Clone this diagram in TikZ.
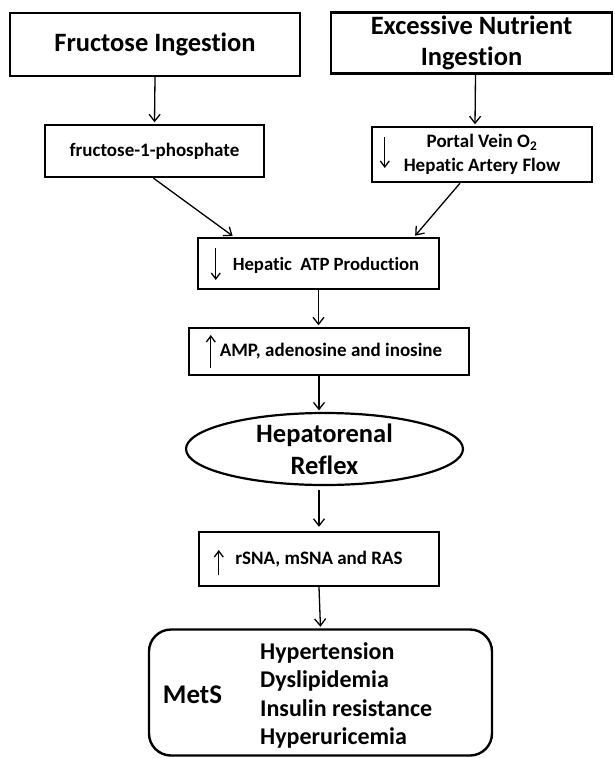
\documentclass[tikz,border=0pt]{standalone}
\usepackage{fontspec}
\setmainfont{Carlito}[Ligatures=NoCommon]
\usetikzlibrary{arrows.meta,shapes.geometric,calc}
\begin{document}
\begin{tikzpicture}[x=1pt,y=-1pt,
  box/.style={draw,line width=2.4pt,inner sep=0pt,align=center},
  arr/.style={line width=1.3pt,-{Straight Barb[length=7pt,width=11pt,line width=1.3pt]},shorten >=1.5pt},
  inarr/.style={line width=1.3pt,-{Straight Barb[length=6pt,width=9pt,line width=1.3pt]}},
  lbl/.style={inner sep=0pt,align=center}]
\useasboundingbox[fill=white] (0,0) rectangle (614,758);
% top boxes
\node[box,minimum width=290pt,minimum height=63pt,font=\bfseries\fontsize{26.5}{31}\selectfont] (fi) at (155,44.5) {Fructose Ingestion};
\node[box,minimum width=281pt,minimum height=61pt,font=\bfseries\fontsize{26.5}{31}\selectfont] (ex) at (471.5,43) {Excessive Nutrient\\Ingestion};
% second row
\node[box,minimum width=219pt,minimum height=52pt,font=\bfseries\fontsize{19}{24}\selectfont] (f1p) at (154.5,151) {fructose-1-phosphate};
\node[box,minimum width=220pt,minimum height=55pt,font=\bfseries\fontsize{19}{24}\selectfont] (portal) at (482,154.5) {Portal Vein O\textsubscript{2}\\Hepatic Artery Flow};
% ATP
\node[box,minimum width=241pt,minimum height=51pt] (atp) at (318.5,263.5) {};
\node[lbl,font=\bfseries\fontsize{18.7}{24}\selectfont] (atpt) at (326,265) {Hepatic\ \ ATP Production};
% AMP
\node[box,minimum width=280pt,minimum height=47pt,font=\bfseries\fontsize{19}{24}\selectfont] (amp) at (329,351.5) {\hspace*{4pt}AMP, adenosine and inosine};
% reflex
\node[draw,ellipse,line width=2.2pt,minimum width=277pt,minimum height=72pt,inner sep=0pt,align=center,font=\bfseries\fontsize{26.5}{32}\selectfont] (refl) at (324.5,449) {Hepatorenal\\Reflex};
% rSNA
\node[box,minimum width=240pt,minimum height=54pt,font=\bfseries\fontsize{19}{24}\selectfont] (rsna) at (319,559) {rSNA, mSNA and RAS};
% MetS
\node[box,rounded corners=22pt,minimum width=343pt,minimum height=126pt] (mets) at (320.5,692.5) {};
\node[lbl,font=\bfseries\fontsize{27}{28}\selectfont] (metst) at (192.5,695) {MetS};
\node[lbl,anchor=west,align=left,font=\bfseries\fontsize{24}{28.5}\selectfont] (list) at (260,695.5) {Hypertension\\Dyslipidemia\\Insulin resistance\\Hyperuricemia};
% connectors
\draw[arr] (fi.south) -- (f1p.north);
\draw[arr] ([xshift=4pt]ex.south) -- ([xshift=-7pt]portal.north);
\draw[arr] ([xshift=-1pt]f1p.south) -- ([xshift=37pt]atp.north west);
\draw[arr] ([xshift=-22pt]portal.south) -- ([xshift=-26pt]atp.north east);
\draw[arr] (atp.south) -- (atp.south |- amp.north);
\draw[arr] ([xshift=-10pt]amp.south) -- ([xshift=-5.5pt]refl.north);
\draw[arr,shorten >=4pt] ([xshift=-5.5pt,yshift=-4pt]refl.south) -- (rsna.north);
\draw[arr] (rsna.south) -- (mets.north);
% inner arrows
\draw[inarr] ($(atp.west)+(19,-15.5)$) -- ++(0,32);
\draw[inarr] ($(portal.west)+(14,-17.5)$) -- ++(0,31);
\draw[inarr] ($(amp.west)+(23,16.5)$) -- ++(0,-33);
\draw[inarr] ($(rsna.west)+(21,16)$) -- ++(0,-25);
\end{tikzpicture}
\end{document}
